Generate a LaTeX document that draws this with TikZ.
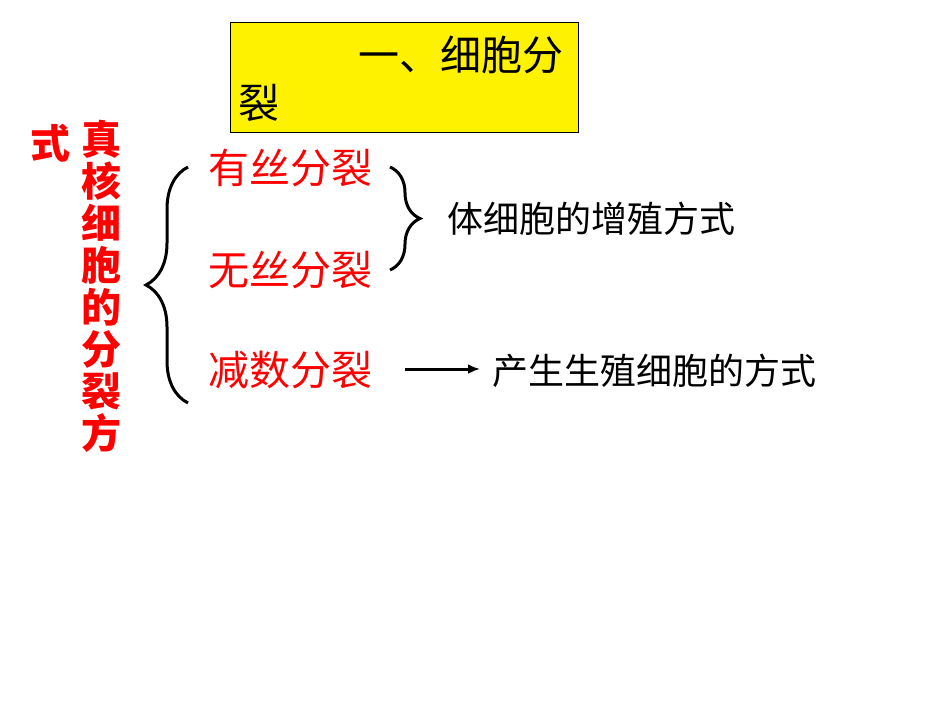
\documentclass[tikz,border=0pt]{standalone}
\usepackage{fontspec}
\setmainfont{Noto Sans CJK SC}
\usetikzlibrary{decorations.pathreplacing,arrows.meta}
\tikzset{redt/.style={text=red,font=\fontsize{41}{44}\selectfont,inner sep=0pt,anchor=west},
blkt/.style={font=\fontsize{36}{40}\selectfont,inner sep=0pt,anchor=west},
br/.style={draw,line width=3pt,decorate}}
\begin{document}
\begin{tikzpicture}[x=1pt,y=-1pt]
\useasboundingbox (0,0) rectangle (950,713);
\node[draw,line width=1pt,fill=yellow,minimum width=348pt,minimum height=110pt,anchor=north west,inner sep=0pt] (box) at (230,22) {};
\node[blkt,font=\fontsize{41}{44}\selectfont] (t1) at (358,55) {一、细胞分};
\node[blkt,font=\fontsize{41}{44}\selectfont] (t2) at (238,103) {裂};
\node[text=red,font=\bfseries\fontsize{40}{42}\selectfont,inner sep=0pt,align=center,anchor=north] (v) at (101,120) {真\\核\\细\\胞\\的\\分\\裂\\方};
\node[text=red,font=\bfseries\fontsize{40}{42}\selectfont,inner sep=0pt] (s) at (50,143) {式};
\node[redt] (a) at (208,168) {有丝分裂};
\node[redt] (b) at (208,270) {无丝分裂};
\node[redt] (c) at (208,370) {减数分裂};
\draw[br,decoration={brace,amplitude=42pt,aspect=0.5}] (188,403) -- (188,167);
\draw[br,decoration={brace,amplitude=30pt}] (390,167) -- (390,270);
\node[blkt] (d) at (447,219) {体细胞的增殖方式};
\node[blkt] (e) at (492,371) {产生生殖细胞的方式};
\coordinate (cs) at (405,369);
\draw[line width=3pt,-{Latex[length=12pt,width=10pt]}] (cs) -- ([xshift=-12pt]cs -| e.west);
\end{tikzpicture}
\end{document}
